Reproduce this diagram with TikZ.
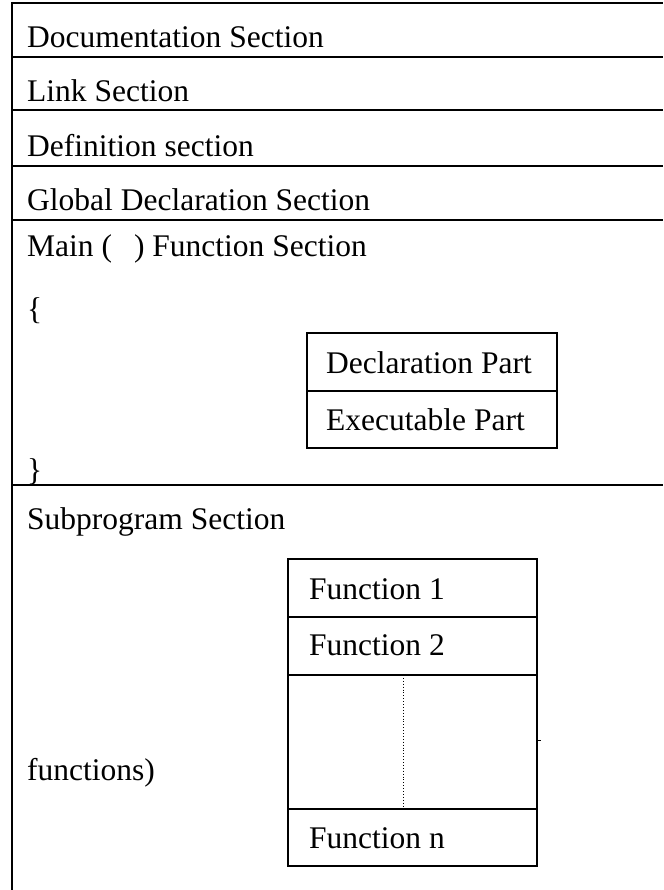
\documentclass[tikz,border=0pt]{standalone}
\usepackage{fontspec}
\setmainfont{Liberation Serif}
\begin{document}
\begin{tikzpicture}[x=1pt,y=-1pt,
  rule/.style={line width=1.8pt},
  cell/.style={line width=1.4pt},
  dots/.style={line width=0.9pt, dotted},
  lbl/.style={anchor=base west, inner sep=0pt, font=\fontsize{31.5}{36}\selectfont}]
\useasboundingbox (0,0) rectangle (663,890);

% outer frame: left edge and section separators
\draw[rule] (12,2) -- (12,890);
\foreach \y in {3,57,110,166,220,485}
  \draw[rule] (12,\y) -- (663,\y);

% section titles
\node[lbl] (doc)  at (27,48)  {Documentation Section};
\node[lbl] (link) at (27,102) {Link Section};
\node[lbl] (def)  at (27,157) {Definition section};
\node[lbl] (glob) at (27,211) {Global Declaration Section};
\node[lbl] (main) at (27,257) {Main (\hspace{0.7em}) Function Section};
\node[lbl] (open) at (27,319) {\{};
\node[lbl] (close) at (27,480) {\}};
\node[lbl] (sub)  at (27,529) {Subprogram Section};
\node[lbl] (fns)  at (27,780) {functions)};

% body of main()
\draw[cell] (307,333) rectangle (557,448);
\draw[cell] (307,391) -- (557,391);
\node[lbl] (decl) at (326,373) {Declaration Part};
\node[lbl] (exec) at (326,430) {Executable Part};

% list of user functions
\draw[cell] (288,559) rectangle (537,866);
\foreach \y in {617,675,809}
  \draw[cell] (288,\y) -- (537,\y);
\coordinate (gapT) at (403,675);
\coordinate (gapB) at (403,809);
\draw[dots] (gapT) -- (gapB);
\draw[line width=0.6pt] (537,740) -- (541,740);
\node[lbl] (f1) at (309,599) {Function 1};
\node[lbl] (f2) at (309,655) {Function 2};
\node[lbl] (fn) at (309,848) {Function n};
\end{tikzpicture}
\end{document}
